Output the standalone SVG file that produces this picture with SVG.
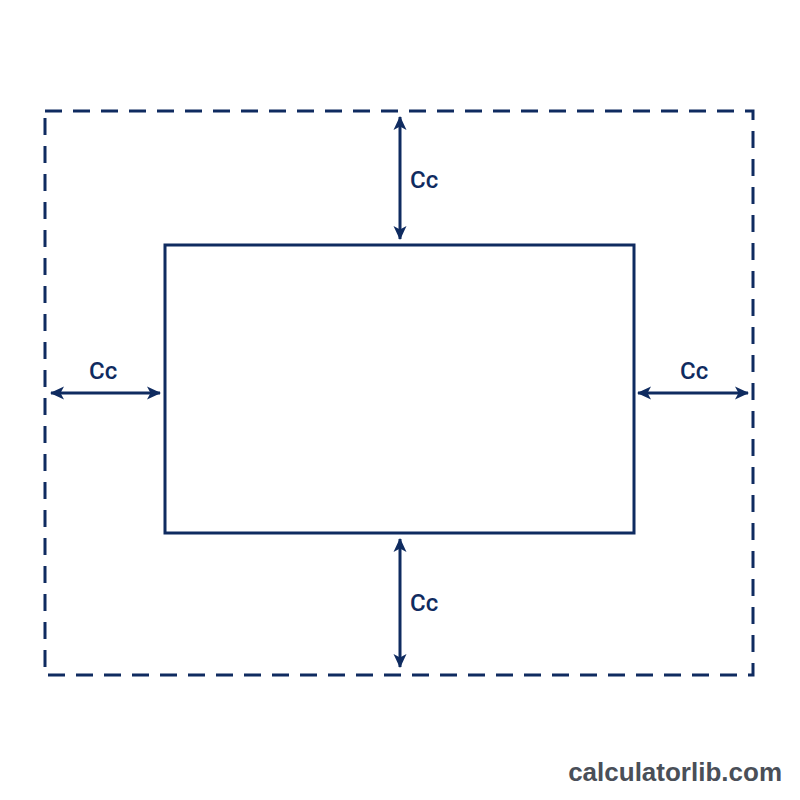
<svg xmlns="http://www.w3.org/2000/svg" width="800" height="800" viewBox="0 0 800 800">
  <style>
    .outer { fill: none; stroke: #0f2b60; stroke-width: 3; stroke-dasharray: 17 11; }
    .inner { fill: none; stroke: #0f2b60; stroke-width: 3; }
    .dim { stroke: #0f2b60; stroke-width: 3; fill: none; marker-start: url(#ah); marker-end: url(#ah); }
    .lbl { font-family: Roboto, "Liberation Sans", Arial, sans-serif; font-size: 24px; font-weight: 500; fill: #0f2b60; }
    .wm { font-family: "Liberation Sans", Arial, sans-serif; font-size: 26px; font-weight: bold; fill: #4a4f58; }
  </style>
  <defs>
    <marker id="ah" viewBox="0 0 14 14" refX="13" refY="7" markerWidth="14" markerHeight="14" markerUnits="userSpaceOnUse" orient="auto-start-reverse">
      <path d="M0,0.5 L14,7 L0,13.5 L3.5,7 Z" fill="#0f2b60"/>
    </marker>
  </defs>
  <rect width="800" height="800" fill="#ffffff"/>
  <g id="outer-boundary">
    <rect class="outer" x="45" y="111" width="708" height="564"/>
  </g>
  <g id="inner-rect">
    <rect class="inner" x="165" y="245" width="469" height="288"/>
  </g>
  <g id="connectors">
    <line class="dim" x1="400" y1="117" x2="400" y2="239"/>
    <line class="dim" x1="400" y1="539" x2="400" y2="667"/>
    <line class="dim" x1="51" y1="393" x2="160" y2="393"/>
    <line class="dim" x1="638" y1="393" x2="748" y2="393"/>
  </g>
  <g id="labels">
    <text class="lbl" x="410" y="188">Cc</text>
    <text class="lbl" x="410" y="611">Cc</text>
    <text class="lbl" x="89" y="379">Cc</text>
    <text class="lbl" x="680" y="379">Cc</text>
  </g>
  <text class="wm" x="782" y="781" text-anchor="end">calculatorlib.com</text>
</svg>
